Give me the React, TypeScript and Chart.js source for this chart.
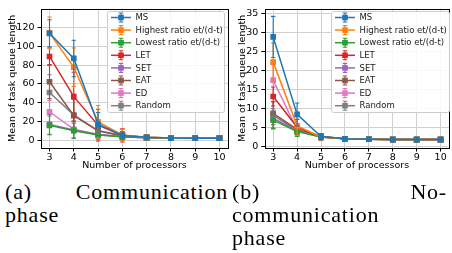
import React, { useEffect, useRef } from "react";
import { Chart, registerables } from "chart.js";
Chart.register(...registerables);

// ---------- data ----------
const processors = [3, 4, 5, 6, 7, 8, 9, 10];
const seriesNames = [
  "MS",
  "Highest ratio et/(d-t)",
  "Lowest ratio et/(d-t)",
  "LET",
  "SET",
  "EAT",
  "ED",
  "Random",
];
const seriesColors = ["#1f77b4", "#ff7f0e", "#2ca02c", "#d62728", "#9467bd", "#8c564b", "#e377c2", "#7f7f7f"];

// (a) Communication phase: means and error half-widths
const commMS = [114, 87.2, 17, 5, 3, 2.2, 2.1, 2.1];
const commMSErr = [14.5, 19.5, 12.5, 4, 1, 0.5, 0.4, 0.4];
const commHighest = [114.5, 77.8, 19.5, 5.5, 3, 2.2, 2.1, 2.1];
const commHighestErr = [17, 20.5, 17.5, 6, 1, 0.5, 0.4, 0.4];
const commLowest = [15.8, 10, 5.5, 3.5, 2.5, 2.1, 2.0, 2.0];
const commLowestErr = [10, 8, 4, 2, 0.8, 0.4, 0.3, 0.3];
const commLET = [89.3, 46.4, 16, 5, 3, 2.2, 2.1, 2.1];
const commLETErr = [9, 26, 17, 7, 1, 0.5, 0.4, 0.4];
const commSET = [16.8, 10.8, 6, 3.5, 2.5, 2.1, 2.0, 2.0];
const commSETErr = [10.5, 9, 4.5, 2, 0.8, 0.4, 0.3, 0.3];
const commEAT = [62.3, 26, 10, 4.5, 2.8, 2.2, 2.1, 2.0];
const commEATErr = [18, 18, 7, 4, 1, 0.5, 0.4, 0.3];
const commED = [30.3, 11.5, 6, 3.5, 2.5, 2.1, 2.0, 2.0];
const commEDErr = [12, 9, 5, 3, 0.8, 0.4, 0.3, 0.3];
const commRandom = [50.8, 27, 10, 5, 2.8, 2.2, 2.1, 2.0];
const commRandomErr = [19, 17, 7, 4, 1, 0.5, 0.4, 0.3];

// (b) No-communication phase
const noMS = [28.8, 8.5, 2.7, 2.1, 2.0, 1.9, 1.9, 1.9];
const noMSErr = [5.4, 3, 0.8, 0.3, 0.2, 0.1, 0.1, 0.1];
const noHighest = [22.2, 5.5, 2.6, 2.1, 2.0, 1.9, 1.9, 1.9];
const noHighestErr = [5, 2.5, 0.8, 0.3, 0.2, 0.1, 0.1, 0.1];
const noLowest = [7.0, 4.0, 2.6, 2.1, 2.0, 1.9, 1.9, 1.9];
const noLowestErr = [2.3, 1.3, 0.7, 0.3, 0.2, 0.1, 0.1, 0.1];
const noLET = [13.2, 5.2, 2.6, 2.1, 2.0, 1.9, 1.9, 1.9];
const noLETErr = [2.5, 2, 0.8, 0.3, 0.2, 0.1, 0.1, 0.1];
const noSET = [7.5, 4.2, 2.6, 2.1, 2.0, 1.9, 1.9, 1.9];
const noSETErr = [2.5, 1.3, 0.7, 0.3, 0.2, 0.1, 0.1, 0.1];
const noEAT = [8.8, 4.6, 2.7, 2.1, 2.0, 1.9, 1.9, 1.9];
const noEATErr = [3, 1.5, 0.8, 0.3, 0.2, 0.1, 0.1, 0.1];
const noED = [17.5, 4.5, 2.6, 2.1, 2.0, 1.9, 1.9, 1.9];
const noEDErr = [4, 1.5, 0.8, 0.3, 0.2, 0.1, 0.1, 0.1];
const noRandom = [8.3, 4.3, 2.7, 2.1, 2.0, 1.9, 1.9, 1.9];
const noRandomErr = [3.5, 1.5, 0.8, 0.3, 0.2, 0.1, 0.1, 0.1];

const xTicks = [3, 4, 5, 6, 7, 8, 9, 10];
const commYTicks = [0, 20, 40, 60, 80, 100, 120];
const noYTicks = [0, 5, 10, 15, 20, 25, 30, 35];

const commSeries = [commMS, commHighest, commLowest, commLET, commSET, commEAT, commED, commRandom];
const commErrors = [commMSErr, commHighestErr, commLowestErr, commLETErr, commSETErr, commEATErr, commEDErr, commRandomErr];
const noSeries = [noMS, noHighest, noLowest, noLET, noSET, noEAT, noED, noRandom];
const noErrors = [noMSErr, noHighestErr, noLowestErr, noLETErr, noSETErr, noEATErr, noEDErr, noRandomErr];

const xLabel = "Number of processors";
const yLabel = "Mean of task queue length";

const FONT = '"DejaVu Sans", sans-serif';

// ---------- plugins ----------
const errorBarPlugin = {
  id: "errorBars",
  afterDatasetDraw(chart: any, args: any) {
    const ds: any = chart.data.datasets[args.index];
    const errs: number[] = ds.errorBars;
    if (!errs) return;
    const ctx = chart.ctx;
    const xs = chart.scales.x;
    const ys = chart.scales.y;
    const a = chart.chartArea;
    ctx.save();
    ctx.beginPath();
    ctx.rect(a.left, a.top, a.right - a.left, a.bottom - a.top);
    ctx.clip();
    ctx.strokeStyle = ds.borderColor;
    ctx.lineWidth = 1.1;
    ds.data.forEach((p: any, i: number) => {
      const e = errs[i];
      const x = xs.getPixelForValue(p.x);
      const y1 = ys.getPixelForValue(p.y + e);
      const y2 = ys.getPixelForValue(p.y - e);
      ctx.beginPath();
      ctx.moveTo(x, y1);
      ctx.lineTo(x, y2);
      ctx.moveTo(x - 2.2, y1);
      ctx.lineTo(x + 2.2, y1);
      ctx.moveTo(x - 2.2, y2);
      ctx.lineTo(x + 2.2, y2);
      ctx.stroke();
    });
    ctx.restore();
  },
};

const framePlugin = {
  id: "frameAndLegend",
  afterDraw(chart: any, _args: any, opts: any) {
    const ctx = chart.ctx;
    const a = chart.chartArea;
    ctx.save();
    ctx.strokeStyle = "#000";
    ctx.lineWidth = 1;
    ctx.strokeRect(Math.round(a.left) + 0.5, Math.round(a.top) + 0.5, Math.round(a.right - a.left), Math.round(a.bottom - a.top));
    // legend
    const bx = opts.boxX, by = opts.boxY, bw = opts.boxW, bh = opts.boxH;
    ctx.fillStyle = "rgba(255,255,255,0.85)";
    ctx.strokeStyle = "#cccccc";
    ctx.beginPath();
    const r = 2;
    ctx.moveTo(bx + r, by);
    ctx.lineTo(bx + bw - r, by);
    ctx.quadraticCurveTo(bx + bw, by, bx + bw, by + r);
    ctx.lineTo(bx + bw, by + bh - r);
    ctx.quadraticCurveTo(bx + bw, by + bh, bx + bw - r, by + bh);
    ctx.lineTo(bx + r, by + bh);
    ctx.quadraticCurveTo(bx, by + bh, bx, by + bh - r);
    ctx.lineTo(bx, by + r);
    ctx.quadraticCurveTo(bx, by, bx + r, by);
    ctx.closePath();
    ctx.fill();
    ctx.stroke();
    ctx.font = `8.5px ${FONT}`;
    ctx.textBaseline = "middle";
    ctx.textAlign = "left";
    chart.data.datasets.forEach((ds: any, i: number) => {
      const cy = by + 6 + i * 12.6;
      const x0 = bx + 3.5, x1 = bx + 23.5, xm = bx + 13.5;
      ctx.strokeStyle = ds.borderColor;
      ctx.lineWidth = 1.5;
      ctx.beginPath();
      ctx.moveTo(x0, cy);
      ctx.lineTo(x1, cy);
      ctx.stroke();
      ctx.lineWidth = 1.1;
      ctx.beginPath();
      ctx.moveTo(xm, cy - 4.5);
      ctx.lineTo(xm, cy + 4.5);
      ctx.moveTo(xm - 2.2, cy - 4.5);
      ctx.lineTo(xm + 2.2, cy - 4.5);
      ctx.moveTo(xm - 2.2, cy + 4.5);
      ctx.lineTo(xm + 2.2, cy + 4.5);
      ctx.stroke();
      ctx.fillStyle = ds.borderColor;
      ctx.fillRect(xm - 2.8, cy - 2.8, 5.6, 5.6);
      ctx.fillStyle = "#1a1a1a";
      ctx.fillText(ds.label, bx + 28, cy + 0.5);
    });
    ctx.restore();
  },
};

type PanelProps = {
  series: number[][];
  errors: number[][];
  yTicks: number[];
  yMin: number;
  yMax: number;
  width: number;
  height: number;
  yAxisWidth: number;
  xAxisHeight: number;
  padTop: number;
  padRight: number;
  yTitlePad: number;
  legend: { boxX: number; boxY: number; boxW: number; boxH: number };
};

function Panel(p: PanelProps) {
  const ref = useRef<HTMLCanvasElement | null>(null);
  useEffect(() => {
    const canvas = ref.current;
    if (!canvas) return;
    const datasets = p.series.map((vals, i) => ({
      label: seriesNames[i],
      data: vals.map((v, j) => ({ x: processors[j], y: v })),
      errorBars: p.errors[i],
      borderColor: seriesColors[i],
      backgroundColor: seriesColors[i],
      borderWidth: 1.5,
      pointStyle: "rect",
      pointRadius: 4,
      pointBorderWidth: 0,
      pointBackgroundColor: seriesColors[i],
      tension: 0,
      fill: false,
    }));
    const chart = new Chart(canvas, {
      type: "line",
      data: { datasets } as any,
      plugins: [errorBarPlugin, framePlugin],
      options: {
        animation: false,
        responsive: false,
        devicePixelRatio: 1,
        layout: { padding: { left: 0, top: p.padTop, right: p.padRight, bottom: 0 } },
        plugins: {
          legend: { display: false },
          tooltip: { enabled: false },
          frameAndLegend: p.legend,
        } as any,
        scales: {
          x: {
            type: "linear",
            min: 2.65,
            max: 10.35,
            afterBuildTicks: (s: any) => {
              s.ticks = xTicks.map((v) => ({ value: v }));
            },
            afterFit: (s: any) => {
              s.height = p.xAxisHeight;
            },
            grid: { color: "#d0d0d0", lineWidth: 1, tickColor: "#000", tickLength: 3.5 },
            border: { display: false },
            ticks: { color: "#000", font: { family: FONT, size: 9.5 }, padding: 0.5, maxRotation: 0, autoSkip: false },
            title: { display: true, text: xLabel, color: "#000", font: { family: FONT, size: 9.5 }, padding: { top: 0, bottom: 3.3 } },
          },
          y: {
            type: "linear",
            min: p.yMin,
            max: p.yMax,
            afterBuildTicks: (s: any) => {
              s.ticks = p.yTicks.map((v) => ({ value: v }));
            },
            afterFit: (s: any) => {
              s.width = p.yAxisWidth;
            },
            grid: { color: "#d0d0d0", lineWidth: 1, tickColor: "#000", tickLength: 3.5 },
            border: { display: false },
            ticks: { color: "#000", font: { family: FONT, size: 9.5 }, padding: 3 },
            title: { display: true, text: yLabel, color: "#000", font: { family: FONT, size: 9.5 }, padding: { top: p.yTitlePad, bottom: 0 } },
          },
        },
      } as any,
    });
    return () => chart.destroy();
  }, []);
  return <canvas ref={ref} width={p.width} height={p.height} style={{ width: p.width, height: p.height, display: "block" }} />;
}

const capStyle: React.CSSProperties = {
  position: "absolute",
  fontFamily: '"Liberation Serif", "DejaVu Serif", serif',
  fontSize: 22,
  letterSpacing: "0.8px",
  lineHeight: "23px",
  color: "#000",
};

export default function App() {
  return (
    <div style={{ position: "absolute", left: 0, top: 0, width: 452, height: 253, overflow: "hidden", background: "#fff" }}>
      <div style={{ position: "absolute", left: 0, top: 0 }}>
        <Panel
          series={commSeries}
          errors={commErrors}
          yTicks={commYTicks}
          yMin={-8.4}
          yMax={140.3}
          width={232}
          height={175}
          yAxisWidth={41}
          xAxisHeight={27}
          padTop={6}
          padRight={3}
          yTitlePad={7.3}
          legend={{ boxX: 107.5, boxY: 11.5, boxW: 117, boxH: 101 }}
        />
      </div>
      <div style={{ position: "absolute", left: 229, top: 0 }}>
        <Panel
          series={noSeries}
          errors={noErrors}
          yTicks={noYTicks}
          yMin={-0.3}
          yMax={36.2}
          width={224}
          height={175}
          yAxisWidth={35.8}
          xAxisHeight={27}
          padTop={6}
          padRight={0.5}
          yTitlePad={8.3}
          legend={{ boxX: 102.5, boxY: 11.5, boxW: 118, boxH: 101 }}
        />
      </div>
      <div style={{ ...capStyle, left: 5, top: 180, width: 223 }}>
        <div style={{ display: "flex", justifyContent: "space-between" }}>
          <span>(a)</span>
          <span>Communication</span>
        </div>
        <div>phase</div>
      </div>
      <div style={{ ...capStyle, left: 232, top: 180, width: 215 }}>
        <div style={{ display: "flex", justifyContent: "space-between" }}>
          <span>(b)</span>
          <span>No-</span>
        </div>
        <div>communication</div>
        <div>phase</div>
      </div>
    </div>
  );
}
